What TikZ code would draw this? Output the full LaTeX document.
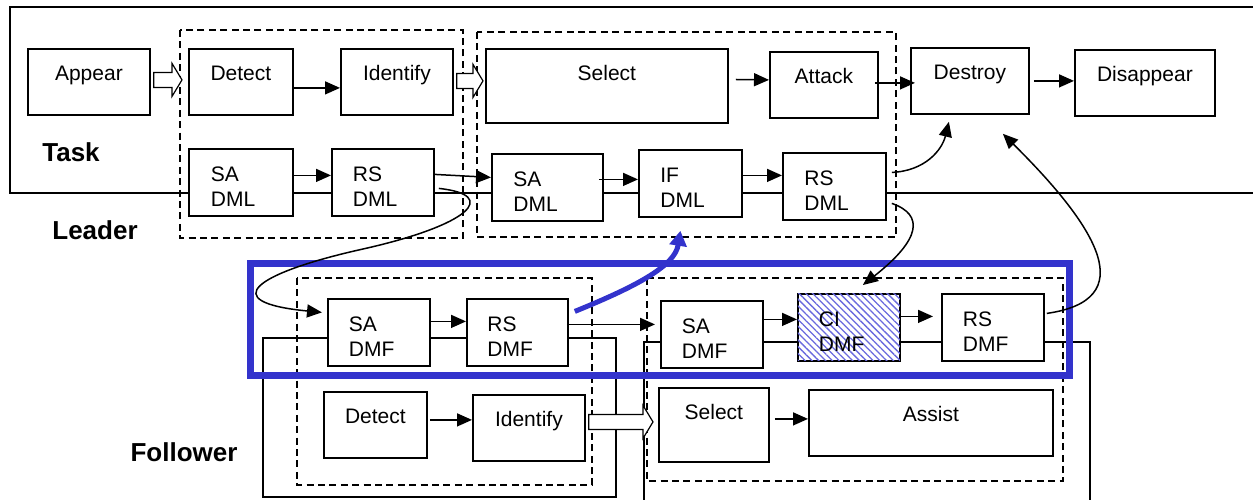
\documentclass[tikz,border=0pt]{standalone}
\usepackage{fontspec}
\setmainfont{Liberation Sans}
\usetikzlibrary{arrows.meta,patterns.meta,calc}

\definecolor{cmdblue}{RGB}{51,51,204}
\definecolor{hatch}{RGB}{105,105,222}

\tikzset{
  blk/.style={draw, fill=white, line width=0.9pt, inner sep=0pt, anchor=north west,
    text height=16pt, text depth=17pt, minimum width=#1,
    font=\fontsize{10.5}{12.5}\selectfont},
  tall/.style={text depth=21pt},
  dbl/.style={blk=#1, align=left, text width=30pt, text height=16.5pt},
  lbl/.style={font=\fontsize{13}{15}\selectfont\bfseries, inner sep=0pt},
  frame/.style={line width=0.8pt},
  dashbox/.style={line width=0.8pt, dash pattern=on 3.5pt off 2.2pt},
  arr/.style={line width=0.75pt, -{Triangle[length=7.5pt,width=6.5pt]}},
  % outlined block arrow between two points
  hollow/.style={line width=0.6pt, fill=white, to path={
    let \p1=(\tikztostart), \p2=(\tikztotarget) in
    (\x1,\y1+3.75pt) -- (\x2-5pt,\y1+3.75pt) -- (\x2-5pt,\y1+8.25pt) -- (\x2,\y1)
    -- (\x2-5pt,\y1-8.25pt) -- (\x2-5pt,\y1-3.75pt) -- (\x1,\y1-3.75pt) -- cycle}},
}

\begin{document}
\begin{tikzpicture}[x=0.5pt,y=-0.5pt]
\useasboundingbox (0,0) rectangle (1253,499);

% task frame, phases and the follower group
\draw[frame] (1253,7) -- (10,7) -- (10,193) -- (1253,193);
\draw[dashbox] (180,30) rectangle (463,238);
\draw[dashbox] (477,32) rectangle (896,237);
\draw[frame] (263,338) rectangle (616,497);
\draw[frame] (644,505) -- (644,342) -- (1090,342) -- (1090,505);
\draw[dashbox] (297,278) rectangle (592,485);
\draw[dashbox] (647,278) rectangle (1063,481);
\draw[cmdblue, line width=3.5pt] (250,263) rectangle (1069,375);

\node[lbl] (task) at (71,152) {Task};
\node[lbl] (leader) at (95,230) {Leader};
\node[lbl] (follower) at (184,452) {Follower};

% leader: task steps
\node[blk=61pt] (appear) at (27,48) {Appear};
\node[blk=52pt] (ldetect) at (188,48) {Detect};
\node[blk=56pt] (lident) at (340,48) {Identify};
\node[blk=121pt, tall] (lselect) at (485,48) {Select};
\node[blk=54pt] (attack) at (769,51) {Attack};
\node[blk=59pt] (destroy) at (910,47) {Destroy};
\node[blk=70pt] (disappear) at (1074,49) {Disappear};

% leader: DML
\node[dbl=52pt] (sadml1) at (188,148) {SA\\DML};
\node[dbl=51pt] (rsdml1) at (331,148) {RS\\DML};
\node[dbl=55.5pt, text width=34pt] (sadml2) at (491,153) {SA\\DML};
\node[dbl=51.5pt] (ifdml) at (638,149) {IF\\DML};
\node[dbl=51.5pt] (rsdml2) at (782,152) {RS\\DML};

% follower: DMF
\node[dbl=51pt] (sadmf1) at (327,298) {SA\\DMF};
\node[dbl=50.5pt] (rsdmf1) at (466,298) {RS\\DMF};
\node[dbl=51pt] (sadmf2) at (660,300) {SA\\DMF};
\node[dbl=51pt, postaction={pattern={Lines[angle=-45,distance=2.4pt,line width=0.65pt]},
  pattern color=hatch}] (cidmf) at (797,293) {CI\\DMF};
\node[dbl=51pt] (rsdmf2) at (941,293) {RS\\DMF};

% follower: task steps
\node[blk=51.5pt] (fdetect) at (323,391) {Detect};
\node[blk=56pt] (fident) at (472,394) {Identify};
\node[blk=55pt, text depth=21pt] (fselect) at (658,387) {Select};
\node[blk=122pt] (assist) at (808,389) {Assist};

% step transitions
\draw[hollow] ([xshift=1.5pt,yshift=1pt]appear.east) to ([xshift=-3pt,yshift=1pt]ldetect.west);
\draw[hollow] ([xshift=1.5pt,yshift=0.5pt]lident.east) to ([xshift=-1pt]lselect.west);
\draw[hollow] ([xshift=1.5pt,yshift=3pt]fident.east) to ([xshift=-2.5pt]fselect.west);

\draw[arr] ([yshift=-3pt]ldetect.east) -- ([yshift=-3pt]lident.west);
\draw[arr, shorten <=3.5pt] ([yshift=3.25pt]lselect.east) -- ([yshift=2.5pt]attack.west);
\draw[arr, shorten <=-2pt, shorten >=-2.5pt] ([yshift=1pt]attack.east) -- ([yshift=-1pt]destroy.west);
\draw[arr, shorten <=2pt] (destroy.east) -- ([yshift=1pt]disappear.west);
\draw[arr, shorten <=1pt] ([yshift=2.5pt]fdetect.east) -- ([yshift=4pt]fident.west);
\draw[arr, shorten <=2.5pt] ([yshift=3pt]fselect.east) -- ([yshift=2pt]assist.west);

% DML / DMF chain
\draw[arr] ([yshift=3.5pt]sadml1.east) -- ([yshift=3.5pt]rsdml1.west);
\draw[arr] ([yshift=4pt]rsdml1.east) -- ([yshift=5pt]sadml2.west);
\draw[arr, shorten <=-2.5pt] ([yshift=4pt]sadml2.east) -- ([yshift=2pt]ifdml.west);
\draw[arr] ([yshift=4pt]ifdml.east) -- ([yshift=5.5pt]rsdml2.west);
\draw[arr] ([yshift=5.5pt]sadmf1.east) -- ([yshift=5.5pt]rsdmf1.west);
\draw[arr, shorten <=-1pt, shorten >=2.5pt] ([yshift=4pt]rsdmf1.east) -- ([yshift=5pt]sadmf2.west);
\draw[arr] ([yshift=7.5pt]sadmf2.east) -- ([yshift=4pt]cidmf.west);
\draw[arr, shorten >=4pt] ([yshift=5.5pt]cidmf.east) -- ([yshift=5.5pt]rsdmf2.west);

% cross links
\draw[arr] ([xshift=2pt,yshift=-3pt]rsdml1.east) .. controls (500,195) and (470,225) .. (363,249)
  .. controls (255,273) and (215,302) .. ([xshift=-2.5pt,yshift=10pt]sadmf1.west);
\draw[arr] ([xshift=2.5pt,yshift=7pt]rsdml2.east) .. controls (925,171) and (942,150)
  .. ([xshift=-10.5pt,yshift=-3.5pt]destroy.south);
\draw[arr] ([xshift=2.5pt,yshift=-8.5pt]rsdml2.east) .. controls (925,215) and (920,240)
  .. ([xshift=7pt,yshift=4pt]cidmf.north);
\draw[arr] ([xshift=1pt,yshift=7pt]rsdmf2.east) .. controls (1140,300) and (1100,230)
  .. ([xshift=16.5pt,yshift=-9.5pt]destroy.south);
\draw[cmdblue, line width=2.5pt, -{Triangle[length=7.5pt,width=8.5pt]}]
  ([xshift=3pt,yshift=10.5pt]rsdmf1.east) .. controls (640,285) and (675,265)
  .. ([xshift=-5pt,yshift=-6.5pt]ifdml.south);
\end{tikzpicture}
\end{document}
